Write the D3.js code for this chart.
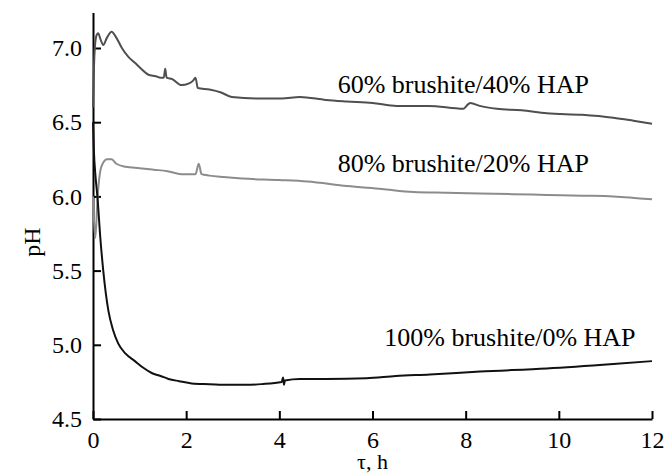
<!DOCTYPE html>
<html>
<head>
<meta charset="utf-8">
<script src="https://cdn.jsdelivr.net/npm/d3@7"></script>
<style>
  body { margin: 0; background: #fff; }
  svg { display: block; font-family: "Liberation Serif", "Times New Roman", serif; }
  .axis path, .axis line { stroke: #000; stroke-width: 2; }
  .axis text { font-size: 24px; fill: #000; font-family: "Liberation Serif", serif; }
</style>
</head>
<body>
<svg></svg>
<script>
// time, h
let tA = [0, 0.03, 0.07, 0.11, 0.16, 0.22, 0.3, 0.4, 0.5, 0.62, 0.76, 0.9, 1.0, 1.19, 1.35, 1.45, 1.52, 1.55, 1.58, 1.7, 1.9, 2.05, 2.15, 2.2, 2.25, 2.5, 2.75, 2.98, 3.5, 4.05, 4.44, 5.0, 5.45, 6.0, 6.52, 7.2, 7.95, 8.05, 8.1, 8.3, 8.67, 9.2, 9.74, 10.5, 11.17, 11.6, 12.0];
// 60% brushite/40% HAP
let phA = [6.6, 6.95, 7.08, 7.10, 7.06, 7.02, 7.07, 7.11, 7.07, 7.0, 6.94, 6.9, 6.87, 6.82, 6.81, 6.80, 6.80, 6.86, 6.80, 6.79, 6.75, 6.76, 6.78, 6.80, 6.73, 6.72, 6.70, 6.67, 6.66, 6.66, 6.67, 6.65, 6.64, 6.63, 6.61, 6.61, 6.59, 6.62, 6.63, 6.61, 6.59, 6.58, 6.56, 6.55, 6.53, 6.51, 6.49];

let tB = [0, 0.02, 0.05, 0.1, 0.18, 0.3, 0.4, 0.5, 0.7, 1.0, 1.3, 1.6, 1.9, 2.2, 2.27, 2.33, 2.5, 2.8, 3.2, 4.0, 4.6, 5.45, 6.2, 6.88, 7.6, 8.31, 9.0, 9.74, 10.5, 11.17, 12.0];
// 80% brushite/20% HAP
let phB = [6.0, 5.85, 5.72, 6.0, 6.2, 6.25, 6.25, 6.22, 6.20, 6.19, 6.18, 6.17, 6.15, 6.15, 6.22, 6.15, 6.14, 6.13, 6.12, 6.11, 6.10, 6.07, 6.05, 6.03, 6.025, 6.02, 6.015, 6.01, 6.005, 6.0, 5.98];

let tC = [0, 0.02, 0.05, 0.1, 0.15, 0.22, 0.33, 0.43, 0.54, 0.7, 0.9, 1.08, 1.26, 1.45, 1.62, 1.85, 2.12, 2.5, 2.9, 3.3, 3.62, 4.05, 4.08, 4.1, 4.12, 4.44, 5.0, 5.87, 6.5, 7.23, 8.31, 9.74, 11.17, 12.0];
// 100% brushite/0% HAP
let phC = [6.5, 6.3, 6.15, 5.98, 5.75, 5.50, 5.23, 5.1, 5.01, 4.94, 4.89, 4.845, 4.81, 4.79, 4.77, 4.755, 4.74, 4.735, 4.73, 4.73, 4.735, 4.75, 4.78, 4.73, 4.76, 4.77, 4.77, 4.775, 4.79, 4.80, 4.82, 4.84, 4.87, 4.89];

let seriesNames = ["60% brushite/40% HAP", "80% brushite/20% HAP", "100% brushite/0% HAP"];
let seriesColors = ["#4f4f4f", "#8c8c8c", "#111111"];
// label anchor (time, pH) for each series name
let labelT = [7.95, 7.95, 8.95];
let labelPH = [6.70, 6.165, 4.99];

let xTicks = [0, 2, 4, 6, 8, 10, 12];
let yTicks = [4.5, 5.0, 5.5, 6.0, 6.5, 7.0];

let width = 665;
let height = 475;

let svg = d3.select("svg")
            .attr("width", width)
            .attr("height", height);

let xScale = d3.scaleLinear()
               .domain([0, 12])
               .range([93, 652]);

let yScale = d3.scaleLinear()
               .domain([4.5, 7.0])
               .range([419, 48]);

// x axis
svg.append("g")
   .classed("axis", true)
   .attr("transform", `translate(0,${yScale(4.5)})`)
   .call(d3.axisBottom(xScale)
           .tickValues(xTicks)
           .tickFormat(d3.format("d"))
           .tickSizeInner(-8)
           .tickSizeOuter(0)
           .tickPadding(12));

// y axis, runs a bit above 7.0
let yAxisScale = yScale.copy().domain([4.5, 7.24]).range([419, yScale(7.24)]);
svg.append("g")
   .classed("axis", true)
   .attr("transform", `translate(${xScale(0)},0)`)
   .call(d3.axisLeft(yAxisScale)
           .tickValues(yTicks)
           .tickFormat(d3.format(".1f"))
           .tickSizeInner(-8)
           .tickSizeOuter(0)
           .tickPadding(11));

let series = [
  {t: tA, ph: phA},
  {t: tB, ph: phB},
  {t: tC, ph: phC}
];

let line = d3.line()
             .curve(d3.curveMonotoneX)
             .x(d => xScale(d[0]))
             .y(d => yScale(d[1]));

series.forEach(function(s, i) {
  svg.append("path")
     .datum(d3.zip(s.t, s.ph))
     .attr("fill", "none")
     .attr("stroke", seriesColors[i])
     .attr("stroke-width", 2)
     .attr("stroke-linejoin", "round")
     .attr("d", line);

  svg.append("text")
     .attr("x", xScale(labelT[i]))
     .attr("y", yScale(labelPH[i]))
     .attr("text-anchor", "middle")
     .style("font-size", "26px")
     .text(seriesNames[i]);
});

// axis labels
svg.append("text")
   .attr("x", xScale(6))
   .attr("y", 469)
   .attr("text-anchor", "middle")
   .style("font-size", "22px")
   .text("τ, h");

svg.append("text")
   .attr("transform", "rotate(-90)")
   .attr("x", -242)
   .attr("y", 40)
   .attr("text-anchor", "middle")
   .style("font-size", "24px")
   .text("pH");
</script>
</body>
</html>
